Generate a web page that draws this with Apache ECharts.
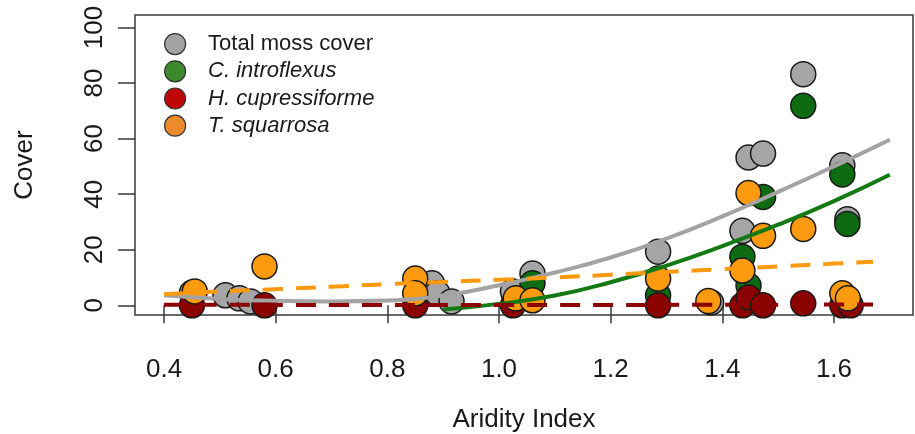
<!DOCTYPE html>
<html>
<head>
<meta charset="utf-8">
<script src="https://cdn.jsdelivr.net/npm/echarts@6/dist/echarts.min.js"></script>
<style>
  html, body { margin: 0; padding: 0; background: #fff; }
  #chart { width: 915px; height: 434px; }
</style>
</head>
<body>
<div id="chart"></div>
<script>
// tick labels
const xTicks = [0.4, 0.6, 0.8, 1.0, 1.2, 1.4, 1.6]
const yTicks = [0, 20, 40, 60, 80, 100]

// observed cover values [aridity, cover]
const totalCover = [
  [0.45, 4.5], [0.51, 3.6], [0.535, 2.5], [0.555, 1.4], [0.88, 7.9], [0.89, 4.3],
  [0.915, 1.4], [1.025, 5], [1.06, 11.4], [1.285, 19.3], [1.38, 1], [1.436, 26.8],
  [1.447, 53.2], [1.473, 54.6], [1.545, 83.2], [1.615, 50.4], [1.624, 31]
]
const cIntroflexus = [
  [1.06, 7.9], [1.285, 3.6], [1.436, 17.5], [1.447, 7.1], [1.473, 39],
  [1.545, 71.8], [1.615, 47.1], [1.624, 29.3]
]
const hCupressiforme = [
  [0.45, 0], [0.58, 0], [0.85, 0], [1.025, 0], [1.285, 0], [1.436, 0],
  [1.447, 2.8], [1.473, 0], [1.545, 0.7], [1.615, 0], [1.63, 0]
]
const tSquarrosa = [
  [0.455, 5], [0.58, 14], [0.85, 9.6], [0.85, 4.3], [1.03, 2.5], [1.06, 1.8],
  [1.285, 9.6], [1.375, 1.5], [1.436, 12.5], [1.447, 40.4], [1.473, 25],
  [1.545, 27.5], [1.615, 4.3], [1.625, 2.5]
]

// fitted curves
const totalFit = [
  [0.4, 3.6], [0.5, 2.3], [0.6, 1.6], [0.7, 1.4], [0.8, 1.7], [0.9, 3.5], [1.0, 7.2],
  [1.1, 11.8], [1.2, 17.2], [1.3, 24], [1.4, 32], [1.5, 40.8], [1.6, 50], [1.7, 59.6]
]
const cFit = [
  [0.9, -1.5], [1.0, 0.5], [1.1, 3.5], [1.2, 8.3], [1.3, 14.3], [1.4, 21.3],
  [1.5, 29], [1.6, 37.5], [1.7, 47]
]
const hFit = [[0.4, 0.2], [1.0, 0.1], [1.67, 0.3]]
const tFit = [
  [0.4, 4], [0.5, 5], [0.6, 5.8], [0.7, 6.7], [0.8, 7.6], [0.9, 8.4], [1.0, 9.2],
  [1.1, 10], [1.2, 11], [1.3, 12], [1.4, 13], [1.5, 14], [1.6, 15], [1.67, 15.7]
]

const font = 'Liberation Sans, Arial, sans-serif'
const textColor = '#1a1a1a'

const chart = echarts.init(document.getElementById('chart'), null, { renderer: 'canvas' })

function pointSeries(name, data, color, z) {
  return {
    name,
    type: 'scatter',
    data,
    symbol: 'circle',
    symbolSize: 25,
    z,
    itemStyle: { color, borderColor: '#1a1a1a', borderWidth: 1.5, opacity: 1 },
    emphasis: { disabled: true }
  }
}

function fitSeries(name, data, color, dashed, z) {
  return {
    name,
    type: 'line',
    data,
    smooth: 0.5,
    showSymbol: false,
    symbol: 'none',
    z,
    lineStyle: { color, width: 4, type: dashed ? [20, 13] : 'solid', cap: 'butt' },
    emphasis: { disabled: true }
  }
}

function legendItem(name, color, italic) {
  return {
    name,
    itemStyle: { color, borderColor: '#333', borderWidth: 1.2 },
    textStyle: italic ? { fontStyle: 'italic' } : {}
  }
}

chart.setOption({
  animation: false,
  backgroundColor: '#ffffff',
  grid: {
    left: 135,
    top: 15,
    width: 778,
    height: 300,
    show: true,
    borderColor: '#3a3a3a',
    borderWidth: 1.5,
    containLabel: false,
    outerBoundsMode: 'none'
  },
  legend: {
    orient: 'vertical',
    left: 159,
    top: 28,
    itemWidth: 56,
    itemHeight: 21,
    itemGap: 5,
    icon: 'circle',
    textStyle: { fontFamily: font, fontSize: 22, color: textColor },
    data: [
      legendItem('Total moss cover', '#a2a2a2', false),
      legendItem('C. introflexus', '#3d8a2d', true),
      legendItem('H. cupressiforme', '#bf0606', true),
      legendItem('T. squarrosa', '#ec8a2c', true)
    ],
    selectedMode: false
  },
  xAxis: {
    type: 'value',
    min: 0.348,
    max: 1.7416,
    name: 'Aridity Index',
    nameLocation: 'middle',
    nameGap: 92,
    nameTextStyle: { fontFamily: font, fontSize: 26, color: textColor },
    axisLine: { show: false },
    axisTick: {
      show: true,
      customValues: xTicks,
      length: 18,
      lineStyle: { color: '#3a3a3a', width: 1.5 }
    },
    axisLabel: {
      customValues: xTicks,
      margin: 42,
      fontFamily: font,
      fontSize: 26,
      color: textColor,
      formatter: v => v.toFixed(1)
    },
    splitLine: { show: false }
  },
  yAxis: {
    type: 'value',
    min: -3.5,
    max: 104.5,
    name: 'Cover',
    nameLocation: 'middle',
    nameGap: 97,
    nameTextStyle: { fontFamily: font, fontSize: 26, color: textColor },
    axisLine: { show: false },
    axisTick: {
      show: true,
      customValues: yTicks,
      length: 17,
      lineStyle: { color: '#3a3a3a', width: 1.5 }
    },
    axisLabel: {
      customValues: yTicks,
      rotate: 90,
      margin: 27,
      fontFamily: font,
      fontSize: 26,
      color: textColor
    },
    splitLine: { show: false }
  },
  series: [
    pointSeries('Total moss cover', totalCover, '#a5a5a5', 2),
    pointSeries('C. introflexus', cIntroflexus, '#0d6b12', 3),
    pointSeries('H. cupressiforme', hCupressiforme, '#8b0000', 4),
    pointSeries('T. squarrosa', tSquarrosa, '#fb9a0e', 5),
    fitSeries('fit total', totalFit, '#a3a3a3', false, 10),
    fitSeries('fit C', cFit, '#137a13', false, 11),
    fitSeries('fit H', hFit, '#8b0000', true, 12),
    fitSeries('fit T', tFit, '#fb9a0e', true, 13)
  ]
})
</script>
</body>
</html>
